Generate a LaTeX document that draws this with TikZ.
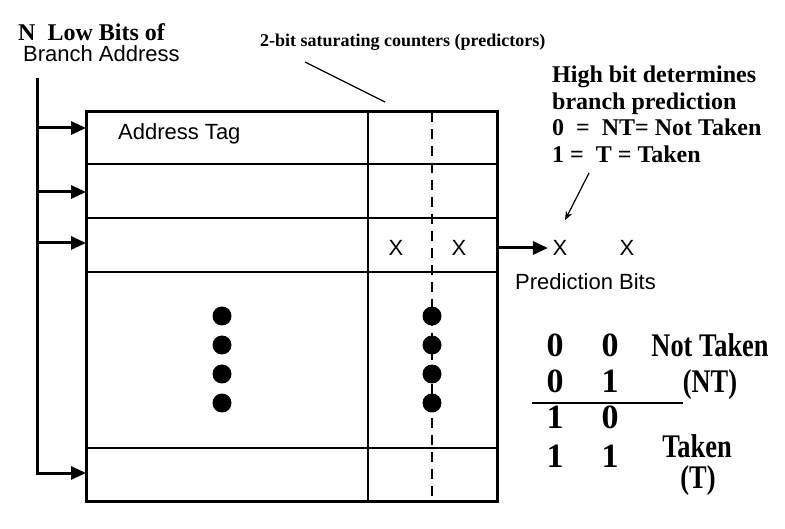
\documentclass[tikz,border=0pt]{standalone}
\usepackage{fontspec}
\setmainfont{Liberation Serif}
\setsansfont{Liberation Sans}
\newfontfamily\narrowserif[FakeStretch=0.8]{Liberation Serif}
\usetikzlibrary{arrows.meta,positioning}

\begin{document}
\begin{tikzpicture}[
  x=1pt, y=-1pt,
  heading/.style={font=\bfseries\fontsize{24}{26}\selectfont, inner sep=0pt},
  note/.style={font=\bfseries\fontsize{24}{26.5}\selectfont, inner sep=0pt, align=left},
  small/.style={font=\bfseries\fontsize{18}{20}\selectfont, inner sep=0pt},
  plain/.style={font=\sffamily\fontsize{22}{24}\selectfont, inner sep=0pt},
  digit/.style={font=\bfseries\fontsize{34}{36}\selectfont, inner sep=0pt},
  state/.style={font=\narrowserif\bfseries\fontsize{33}{36}\selectfont, inner sep=0pt},
  grid/.style={line width=2.6pt},
  arrow/.style={line width=3pt, -{Triangle[length=15pt,width=13pt]}},
  leader/.style={line width=1.2pt},
  dot/.style={circle, fill, inner sep=0pt, minimum size=19pt}
]
\useasboundingbox (0,0) rectangle (785,529);

\node[heading, anchor=base west] (lowbits) at (18,41) {N\ \ Low Bits of};
\node[plain, anchor=base west] (branch) at (23,62) {Branch Address};
\node[small, anchor=base west] (counters) at (260,47) {2-bit saturating counters (predictors)};
\coordinate (colhead) at (385,102);
\draw[leader] ([xshift=45pt, yshift=-15pt]counters.base west) -- (colhead);

\draw[line width=3pt] (86,112) rectangle (497,501);
\foreach \y in {164,218,272,448}
  \draw[grid] (86,\y) -- (497,\y);
\draw[line width=2.2pt] (368,112) -- (368,501);
\draw[line width=2.4pt, dash pattern=on 10pt off 7pt] (432,112) -- (432,501);

\node[plain, anchor=base west] (tag) at (118,140) {Address Tag};
\node[plain] (hi) at (396,248) {X};
\node[plain] (lo) at (459,248) {X};
\foreach \y in {316,345,374,403} {
  \node[dot] (dl\y) at (222,\y) {};
  \node[dot] (dr\y) at (432,\y) {};
}

\coordinate (bustop) at (37,78);
\foreach \y/\n in {128/1,192/2,243/3,473/5}
  \coordinate (row\n) at (86,\y);
\draw[arrow] (bustop) |- (row5);
\foreach \n in {1,2,3}
  \draw[arrow] (row\n -| bustop) -- (row\n);

\coordinate (rowout) at (497,248);
\node[plain] (predhi) at (560,248) {X};
\node[plain] (predlo) at (627,248) {X};
\draw[arrow, shorten >=4.5pt] (rowout) -- (predhi.west);
\node[plain, anchor=base west] (predbits) at (515,290) {Prediction Bits};

\node[note, anchor=north west] (rule) at (552,66) {High bit determines\\branch prediction\\0\ \ =\ \ NT= Not Taken\\1 =\ \ T = Taken};
\coordinate (rulefoot) at (589,173);
\draw[leader, -{Stealth[length=9pt,width=7pt]}] (rulefoot) -- ([shift={(5,-20)}]predhi.north);

\foreach \y/\a/\b in {345/0/0,381/0/1,417/1/0,456/1/1} {
  \node[digit] (msb\y) at (555,\y) {\a};
  \node[digit] (lsb\y) at (610,\y) {\b};
}
\draw[line width=1.3pt] (532,403) -- (683,403);

\node[state, anchor=base] (nottaken) at (710,357) {Not Taken};
\node[state, anchor=base] (nt) at (710,393) {(NT)};
\node[state, anchor=base] (taken) at (697,457) {Taken};
\node[state, anchor=base] (t) at (698,488) {(T)};
\end{tikzpicture}
\end{document}
